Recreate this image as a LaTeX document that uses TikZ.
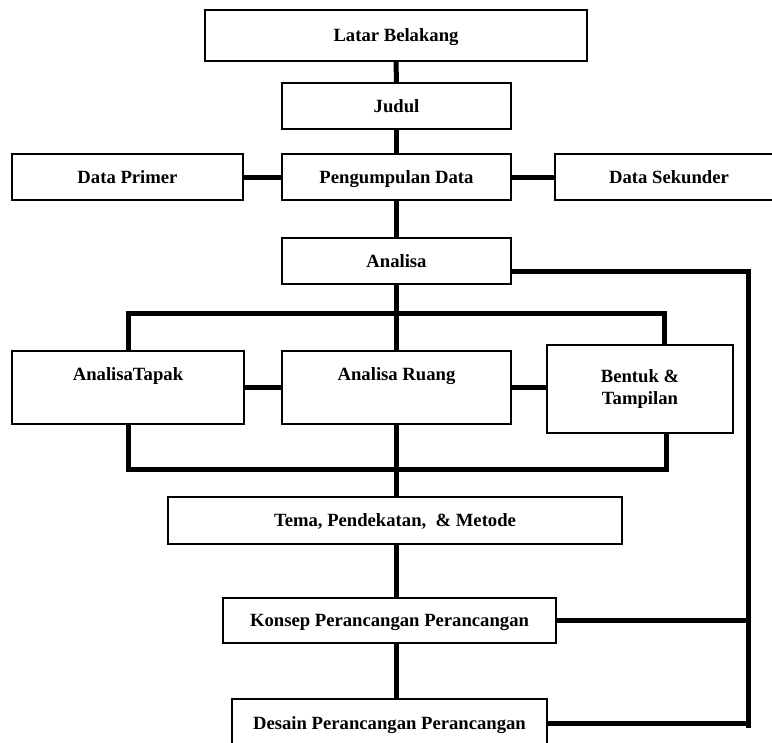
\documentclass[tikz,border=0pt]{standalone}
\usepackage{fontspec}
\setmainfont{Liberation Serif}
\usepackage{tikz}
\usetikzlibrary{
	calc,
	positioning
}
\newcommand{\tegak}{\rule[-3.6pt]{0pt}{16.5pt}}

\begin{document}
\begin{tikzpicture}[x=0.75pt, y=-0.75pt,
		kotak/.style={draw, line width=0.8pt, fill=white, align=center, inner sep=0pt,
			font=\fontsize{14}{16.5}\selectfont\bfseries, execute at begin node=\tegak},
		garis/.style={line width=3.75pt}]
		\useasboundingbox (0,0) rectangle (772,743);
		
		% 上部方框
		\node[kotak, minimum width=286.5pt, minimum height=38.25pt] (latar) at (396,35.5) {Latar Belakang};
		\node[kotak, minimum width=171.75pt, minimum height=34.5pt] (judul) at (396.5,106) {Judul};
		\node[kotak, minimum width=171.75pt, minimum height=34.5pt] (kumpul) at (396.5,177) {Pengumpulan Data};
		\node[kotak, minimum width=173.25pt, minimum height=34.5pt] (primer) at (127.5,177) {Data Primer};
		\node[kotak, minimum width=171pt, minimum height=34.5pt] (sekunder) at (669,177) {Data Sekunder};
		\node[kotak, minimum width=171.75pt, minimum height=34.5pt] (analisa) at (396.5,261) {Analisa};
		
		% 分析三框
		\node[kotak, minimum width=174pt, minimum height=54.75pt] (tapak) at (128,387.5) {AnalisaTapak\\ \tegak};
		\node[kotak, minimum width=171.75pt, minimum height=54.75pt] (ruang) at (396.5,387.5) {Analisa Ruang\\ \tegak};
		\node[kotak, minimum width=139.5pt, minimum height=66pt] (bentuk) at (640,389) {Bentuk \&\\ \tegak Tampilan};
		
		% 下部方框
		\node[kotak, minimum width=340.5pt, minimum height=35.25pt] (tema) at (395,520.5) {Tema, Pendekatan,\ \ \& Metode};
		\node[kotak, minimum width=249.75pt, minimum height=33.75pt] (konsep) at (389.5,620.5) {Konsep Perancangan Perancangan};
		\node[kotak, minimum width=236.25pt, minimum height=36pt] (desain) at (389.5,723) {Desain Perancangan Perancangan};
		
		% 连线
		\draw[garis] (latar.south) -- (judul.north);
		\draw[garis] (judul.south) -- (kumpul.north);
		\draw[garis] (primer.east) -- (kumpul.west);
		\draw[garis] (kumpul.east) -- (sekunder.west);
		\draw[garis] (kumpul.south) -- (analisa.north);
		\draw[garis] (analisa.south) -- (ruang.north);
		
		% 上横杠和下横杠
		\coordinate (atasKi) at (128,313);
		\coordinate (atasKa) at (664,313);
		\coordinate (bawahKi) at (128,469);
		\coordinate (bawahKa) at (666,469);
		\draw[garis] (tapak.north) -- (atasKi) -- (atasKa) -- (atasKa |- bentuk.north);
		\draw[garis] (tapak.south) -- (bawahKi) -- (bawahKa) -- (bawahKa |- bentuk.south);
		\draw[garis] (tapak.east) -- (ruang.west);
		\draw[garis] (ruang.east) -- (ruang.east -| bentuk.west);
		
		% 中轴
		\draw[garis] (ruang.south) -- (ruang.south |- tema.north);
		\draw[garis] (tema.south -| ruang.south) -- (konsep.north -| ruang.south);
		\draw[garis] (konsep.south -| ruang.south) -- (desain.north -| ruang.south);
		
		% 右侧回路
		\coordinate (kanan) at (748,728);
		\draw[garis] ([yshift=-7.5pt]analisa.east) -| (kanan);
		\draw[garis] (konsep.east) -- (konsep.east -| kanan);
		\draw[garis] (desain.east) -- (desain.east -| kanan);
	\end{tikzpicture}
\end{document}
